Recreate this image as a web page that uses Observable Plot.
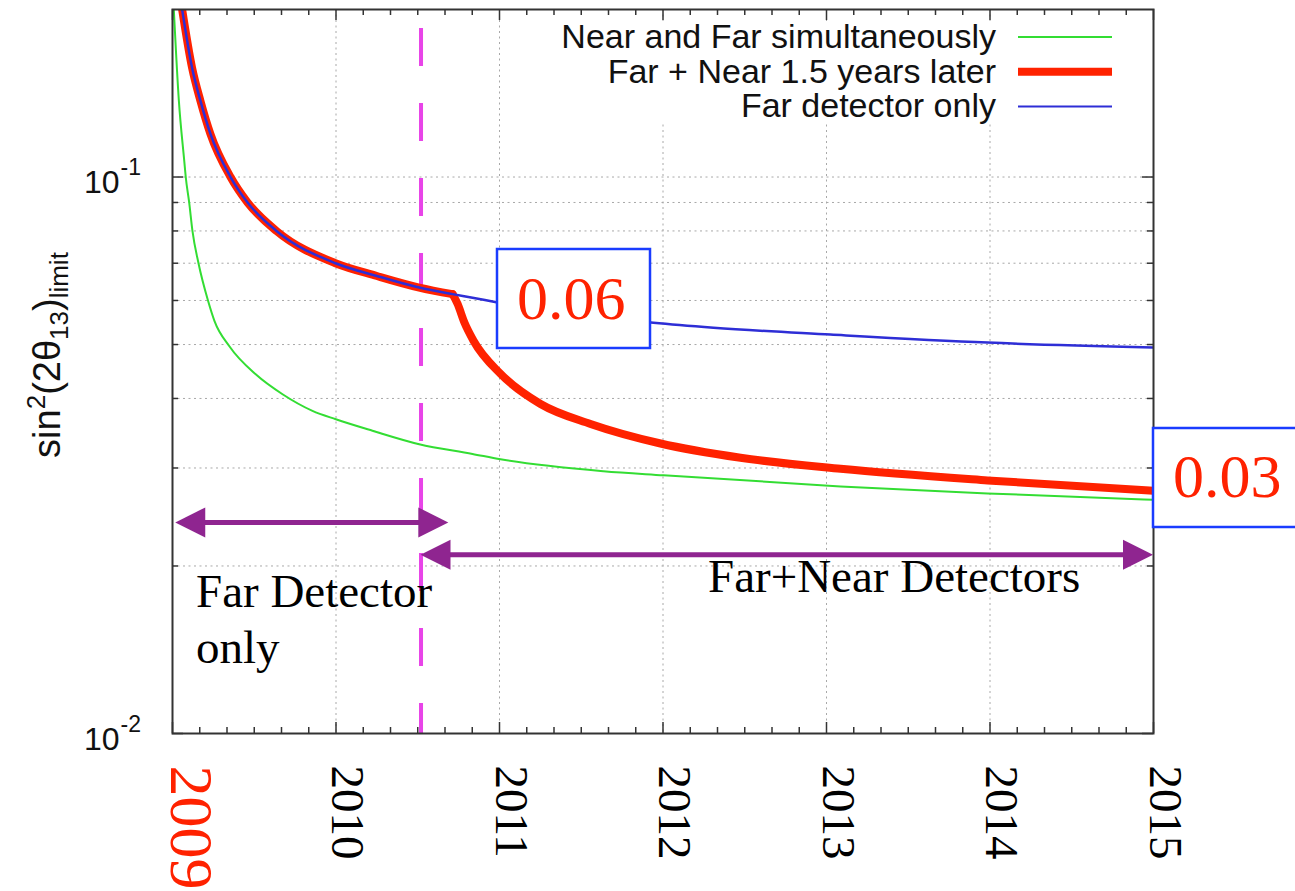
<!DOCTYPE html>
<html><head><meta charset="utf-8">
<script src="https://cdn.jsdelivr.net/npm/d3@7"></script>
<script src="https://cdn.jsdelivr.net/npm/@observablehq/plot@0.6"></script>
<style>html,body{margin:0;padding:0;background:#fff;} #chart svg{display:block;}</style>
</head><body><div id="chart"></div>
<script>
// ---------- data ----------
const years = [2009, 2010, 2011, 2012, 2013, 2014, 2015];
const seriesNames = ["Near and Far simultaneously", "Far + Near 1.5 years later", "Far detector only"];

// Far detector only (blue)
const farOnlyYear  = [2009.059, 2009.120, 2009.171, 2009.232, 2009.355, 2009.459, 2009.636, 2009.997, 2010.25, 2010.509, 2010.713, 2010.835, 2010.988, 2011.942, 2012.309, 2013.024, 2013.985, 2015.0];
const farOnlyLimit = [0.2, 0.157, 0.137, 0.1195, 0.1, 0.09, 0.08, 0.07, 0.0664, 0.0633, 0.0616, 0.0607, 0.0595, 0.0547, 0.0536, 0.0521, 0.0504, 0.0494];

// Far + Near 1.5 years later (red): follows Far-only until the near detector starts, then:
const nearStartYear = 2010.713;
const lateYear  = [2010.713, 2010.743, 2010.786, 2010.841, 2011.006, 2011.251, 2011.557, 2011.985, 2012.474, 2013.086, 2013.985, 2015.0];
const lateLimit = [0.0616, 0.0592, 0.0547, 0.0508, 0.0443, 0.0391, 0.0360, 0.0332, 0.0313, 0.0299, 0.0285, 0.0273];

// Near and Far simultaneously (green)
const bothYear  = [2009.008, 2009.039, 2009.072, 2009.081, 2009.102, 2009.122, 2009.159, 2009.217, 2009.257, 2009.349, 2009.509, 2009.673, 2009.856, 2009.999, 2010.223, 2010.509, 2010.835, 2011.006, 2011.636, 2012.003, 2013.086, 2013.985, 2015.0];
const bothLimit = [0.2, 0.137, 0.1068, 0.1, 0.09, 0.08, 0.07, 0.06, 0.0551, 0.0496, 0.0442, 0.0407, 0.0380, 0.0367, 0.0350, 0.0331, 0.0318, 0.0311, 0.0296, 0.0291, 0.0278, 0.0270, 0.0263];

const switchYear = 2010.52;            // magenta dashed line
const yGrid = [0.02, 0.03, 0.04, 0.05, 0.06, 0.07, 0.08, 0.09, 0.1];
const yMajor = [0.01, 0.1];
const yMinor = [0.02, 0.03, 0.04, 0.05, 0.06, 0.07, 0.08, 0.09];
const xGrid = [2010, 2011, 2012, 2013, 2014];
const yTickValues = [0.1, 0.01];
const yTickBase = ["10", "10"];
const yTickExp = ["-1", "-2"];
const annot06 = "0.06", annot03 = "0.03";

// ---------- tables ----------
const blue = farOnlyYear.map((x, i) => ({year: x, limit: farOnlyLimit[i]}));
const redEarly = blue.filter(d => d.year <= nearStartYear);
const redLate = lateYear.map((x, i) => ({year: x, limit: lateLimit[i]}));
const green = bothYear.map((x, i) => ({year: x, limit: bothLimit[i]}));
const xMinor = d3.range(0, 37).map(k => 2009 + k / 6).filter((v, k) => k % 6 !== 0);

const C = {green: "#33dd33", red: "#ff2200", blue: "#2e2ed6", magenta: "#e844e8", purple: "#8f2590", grid: "#a8a8a8", axis: "#333"};
const sans = "Liberation Sans, Arial, Helvetica, sans-serif";
const serif = "Liberation Serif, Times New Roman, Times, serif";

const width = 1295, height = 891;
const mL = 172, mR = 142, mT = 9, mB = 158;
const FW = width - mL - mR, FH = height - mT - mB;

const chart = Plot.plot({
  width, height,
  marginLeft: mL, marginRight: mR, marginTop: mT, marginBottom: mB,
  style: {background: "white", fontFamily: sans, overflow: "visible"},
  x: {domain: [2009, 2015], axis: null},
  y: {type: "log", domain: [0.01, 0.2], axis: null},
  marks: [
    Plot.ruleY(yGrid, {y: d => d, stroke: C.grid, strokeWidth: 1, strokeDasharray: "2,3.5"}),
    Plot.ruleX(xGrid, {x: d => d, stroke: C.grid, strokeWidth: 1, strokeDasharray: "2,3.5"}),
    Plot.ruleX([switchYear], {x: d => d, stroke: C.magenta, strokeWidth: 4, strokeDasharray: "38,37", strokeDashoffset: 56}),
    Plot.line(green, {x: "year", y: "limit", stroke: C.green, strokeWidth: 2, curve: "monotone-x", clip: true}),
    Plot.line(redEarly, {x: "year", y: "limit", stroke: C.red, strokeWidth: 8, curve: "monotone-x", clip: true}),
    Plot.line(redLate, {x: "year", y: "limit", stroke: C.red, strokeWidth: 8, curve: "monotone-x", clip: true}),
    Plot.line(blue, {x: "year", y: "limit", stroke: C.blue, strokeWidth: 2.5, curve: "monotone-x", clip: true}),
    Plot.frame({stroke: C.axis, strokeWidth: 2}),
    // inward ticks, all four sides
    Plot.tickX(years, {x: d => d, insetTop: FH - 11, stroke: C.axis, strokeWidth: 1.5}),
    Plot.tickX(xMinor, {x: d => d, insetTop: FH - 6, stroke: C.axis, strokeWidth: 1.5}),
    Plot.tickX(years, {x: d => d, insetBottom: FH - 11, stroke: C.axis, strokeWidth: 1.5}),
    Plot.tickX(xMinor, {x: d => d, insetBottom: FH - 6, stroke: C.axis, strokeWidth: 1.5}),
    Plot.tickY(yMajor, {y: d => d, insetRight: FW - 11, stroke: C.axis, strokeWidth: 1.5}),
    Plot.tickY(yMinor, {y: d => d, insetRight: FW - 6, stroke: C.axis, strokeWidth: 1.5}),
    Plot.tickY(yMajor, {y: d => d, insetLeft: FW - 11, stroke: C.axis, strokeWidth: 1.5}),
    Plot.tickY(yMinor, {y: d => d, insetLeft: FW - 6, stroke: C.axis, strokeWidth: 1.5}),
    // y tick labels 10^-1, 10^-2
    Plot.text(yTickValues, {y: d => d, frameAnchor: "left", text: (d, i) => yTickBase[i], textAnchor: "end", lineAnchor: "bottom", dx: -53, dy: 16, fontSize: 32, fill: "#111"}),
    Plot.text(yTickValues, {y: d => d, frameAnchor: "left", text: (d, i) => yTickExp[i], textAnchor: "start", lineAnchor: "bottom", dx: -52, dy: -2, fontSize: 23, fill: "#111"}),
    // x tick labels (rotated)
    Plot.text(years.slice(1), {x: d => d, frameAnchor: "bottom", text: d => String(d), rotate: 90, textAnchor: "start", dy: 32, dx: -4, fontFamily: serif, fontSize: 47, fill: "black"}),
    Plot.text(years.slice(0, 1), {x: d => d, frameAnchor: "bottom", text: d => String(d), rotate: 90, textAnchor: "start", dy: 32, dx: -2, fontFamily: serif, fontSize: 62, fill: C.red})
  ]
});
document.getElementById("chart").appendChild(chart);

// ---------- overlays: legend, axis label, annotations ----------
const svg = d3.select(chart);
const sx = chart.scale("x").apply, sy = chart.scale("y").apply;

// legend
const lg = svg.append("g");
lg.append("rect").attr("x", 540).attr("y", 21).attr("width", 610).attr("height", 103).attr("fill", "white");
const legendColors = [C.green, C.red, C.blue], legendWidths = [2, 8, 2];
seriesNames.forEach((name, i) => {
  const cy = 37 + 34.7 * i;
  lg.append("text").attr("x", 996).attr("y", cy + 11).attr("text-anchor", "end")
    .attr("font-family", sans).attr("font-size", 34).attr("fill", "#111").text(name);
  lg.append("line").attr("x1", 1018).attr("x2", 1112).attr("y1", cy).attr("y2", cy)
    .attr("stroke", legendColors[i]).attr("stroke-width", legendWidths[i]);
});

// y axis label
const yl = svg.append("text").attr("transform", "translate(60,355) rotate(-90)")
  .attr("text-anchor", "middle").attr("font-family", sans).attr("font-size", 38).attr("fill", "#111");
yl.append("tspan").text("sin");
yl.append("tspan").attr("font-size", 26).attr("dy", -15).text("2");
yl.append("tspan").attr("font-size", 38).attr("dy", 15).text("(2θ");
yl.append("tspan").attr("font-size", 26).attr("dy", 8).text("13");
yl.append("tspan").attr("font-size", 38).attr("dy", -8).text(")");
yl.append("tspan").attr("font-size", 26).attr("dy", 8).text("limit");

// double-headed arrows
function dblArrow(x1, x2, y) {
  const L = 30, hw = 15;
  const g = svg.append("g").attr("fill", C.purple);
  g.append("line").attr("x1", x1 + L - 2).attr("x2", x2 - L + 2).attr("y1", y).attr("y2", y)
    .attr("stroke", C.purple).attr("stroke-width", 5);
  g.append("path").attr("d", `M${x1},${y}L${x1 + L},${y - hw}L${x1 + L},${y + hw}Z`);
  g.append("path").attr("d", `M${x2},${y}L${x2 - L},${y - hw}L${x2 - L},${y + hw}Z`);
}
dblArrow(sx(2009.02), sx(2010.69), sy(0.0239));
dblArrow(sx(switchYear), sx(2015), sy(0.0209));

function label(x, y, txt, size) {
  svg.append("text").attr("x", x).attr("y", y).attr("text-anchor", "start").attr("font-family", serif)
    .attr("font-size", size).attr("fill", "black").text(txt);
}
label(196, 607, "Far Detector", 47);
label(196, 663, "only", 47);
label(708, 592, "Far+Near Detectors", 47);

// value boxes
function box(x, y, w, h, txt, tx, ty) {
  svg.append("rect").attr("x", x).attr("y", y).attr("width", w).attr("height", h)
    .attr("fill", "white").attr("stroke", "#1a3cff").attr("stroke-width", 2.5);
  svg.append("text").attr("x", tx).attr("y", ty).attr("text-anchor", "start").attr("font-family", serif)
    .attr("font-size", 62).attr("fill", C.red).text(txt);
}
box(497, 249, 153, 99, annot06, 517, 319);
box(sx(2015), 428, 160, 99, annot03, 1173, 497);
</script></body></html>
